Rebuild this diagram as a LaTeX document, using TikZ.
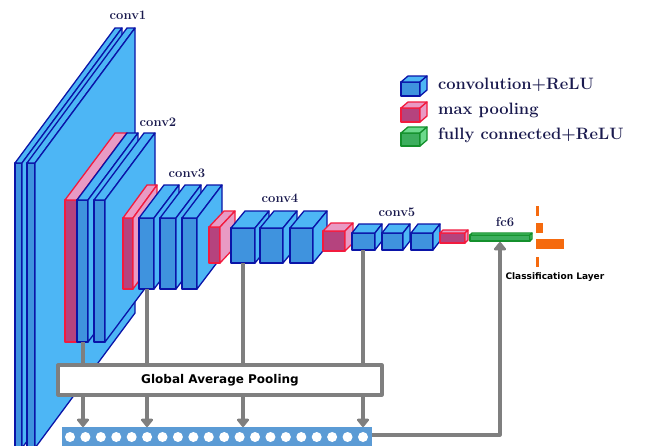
\documentclass[tikz,border=0pt]{standalone}
\usepackage{fontspec}
\usepackage{xcolor}
\usepackage{tikz}
\usetikzlibrary{arrows.meta, positioning}
\newfontfamily\gapfont{DejaVu Sans}
\definecolor{cnnfront}{HTML}{3F93DE}
\definecolor{cnnside}{HTML}{4DB6F5}
\definecolor{cnnedge}{HTML}{0A14A8}
\definecolor{poolfront}{HTML}{B5437E}
\definecolor{poolside}{HTML}{E99AC4}
\definecolor{pooledge}{HTML}{F21B3F}
\definecolor{fcfront}{HTML}{3DAE5E}
\definecolor{fcside}{HTML}{6CD98C}
\definecolor{fcedge}{HTML}{14902C}
\definecolor{gapgray}{HTML}{7F7F7F}
\definecolor{vecblue}{HTML}{5B9BD5}
\definecolor{clsorange}{HTML}{F56A0E}
\definecolor{labelnavy}{HTML}{1A1A4E}

% one block: kind, x, y (front top left), width, height, depth right, depth up
\newcommand{\drawslab}[7]{%
  \filldraw[#1face] (#2,#3) rectangle ++(#4,#5);
  \filldraw[#1side] (#2,#3) -- ++(#6,-#7) -- ++(#4,0) -- ++(-#6,#7) -- cycle;
  \filldraw[#1side] (#2+#4,#3) -- ++(#6,-#7) -- ++(0,#5) -- ++(-#6,#7) -- cycle;
}

\begin{document}
\begin{tikzpicture}[
    x=1pt, y=-1pt, line join=round,
    convface/.style={fill=cnnfront, draw=cnnedge, line width=1.3pt},
    convside/.style={fill=cnnside, draw=cnnedge, line width=1.3pt},
    poolface/.style={fill=poolfront, draw=pooledge, line width=1.3pt},
    poolside/.style={fill=poolside, draw=pooledge, line width=1.3pt},
    fcface/.style={fill=fcfront, draw=fcedge, line width=1.3pt},
    fcside/.style={fill=fcside, draw=fcedge, line width=1.3pt},
    lbl/.style={font=\fontsize{13}{15}\selectfont\bfseries, text=labelnavy},
    key/.style={font=\fontsize{16.5}{18}\selectfont\bfseries, text=labelnavy, anchor=base west, inner sep=0pt},
    gapbox/.style={draw=gapgray, line width=3.2pt, fill=white, minimum width=324pt, minimum height=30pt,
      font=\gapfont\bfseries\fontsize{12}{14}\selectfont},
    vecbar/.style={fill=vecblue, minimum width=310pt, minimum height=30pt, anchor=north west, inner sep=0pt},
    feed/.style={draw=gapgray, line width=3.2pt},
    feedarr/.style={feed, -{Triangle[length=9pt, width=14pt, round]}},
    clsbar/.style={fill=clsorange}
  ]
    \clip (0,0) rectangle (659,445);
    \fill[white] (0,0) rectangle (659,445);

    % conv1
    \drawslab{conv}{15}{163}{7}{285}{100}{135}
    \drawslab{conv}{27}{163}{8}{285}{100}{135}
    % conv2
    \drawslab{pool}{65}{200}{12}{142}{50}{67}
    \drawslab{conv}{77}{200}{11}{142}{50}{67}
    \drawslab{conv}{94}{200}{11}{142}{50}{67}
    % conv3
    \drawslab{pool}{123}{218}{10}{71}{24}{33}
    \drawslab{conv}{139}{218}{15}{71}{25}{33}
    \drawslab{conv}{160}{218}{16}{71}{25}{33}
    \drawslab{conv}{182}{218}{15}{71}{25}{33}
    % conv4
    \drawslab{pool}{209}{227}{11}{36}{15}{16}
    \drawslab{conv}{231}{228}{24}{35}{14}{17}
    \drawslab{conv}{260}{228}{23}{35}{14}{17}
    \drawslab{conv}{290}{228}{23}{35}{14}{17}
    % conv5
    \drawslab{pool}{323}{231}{22}{20}{8}{8}
    \drawslab{conv}{352}{233}{23}{17}{7}{9}
    \drawslab{conv}{382}{233}{21}{17}{7}{9}
    \drawslab{conv}{411}{233}{22}{17}{7}{9}
    % pool5 and fc6
    \drawslab{pool}{440}{233}{25}{10}{3}{3}
    \drawslab{fc}{470}{235}{60}{6}{2}{2}

    \node[lbl] (l1) at (128,15) {conv1};
    \node[lbl] (l2) at (158,122) {conv2};
    \node[lbl] (l3) at (187,173) {conv3};
    \node[lbl] (l4) at (280,198) {conv4};
    \node[lbl] (l5) at (397,212) {conv5};
    \node[lbl] (l6) at (505,222) {fc6};

    % legend
    \drawslab{conv}{401}{82}{19}{14}{7}{6}
    \node[key] (kconv) at (438,89) {convolution+ReLU};
    \drawslab{pool}{401}{108}{19}{14}{7}{6}
    \node[key] (kpool) at (438,114) {max pooling};
    \drawslab{fc}{401}{133}{19}{13}{7}{6}
    \node[key] (kfc) at (438,139) {fully connected+ReLU};

    % pooling and feature vector
    \node[gapbox] (gap) at (220,380) {Global Average Pooling};
    \node[vecbar] (vec) at (62,427) {};
    \foreach \i in {0,...,19}
      \fill[white] (70+\i*15.42,437) circle (5);

    \coordinate (c2) at (83,342);
    \coordinate (c3) at (147,289);
    \coordinate (c4) at (243,263);
    \coordinate (c5) at (363,250);
    \foreach \c in {c2,c3,c4,c5} {
      \draw[feed] (\c) -- (\c |- gap.north);
      \draw[feedarr] (\c |- gap.south) -- (\c |- vec.north);
    }
    \coordinate (vout) at ([yshift=-8pt]vec.north east);
    \coordinate (fc6in) at (500,242);
    \draw[feedarr] (vout) -| (fc6in);

    % class scores
    \fill[clsbar] (536,206) rectangle (539,216);
    \fill[clsbar] (536,223) rectangle (543,233);
    \fill[clsbar] (536,239) rectangle (564,249);
    \fill[clsbar] (536,257) rectangle (539,267);
    \node[anchor=west, font=\gapfont\bfseries\fontsize{9}{11}\selectfont] (cls) at (502,277) {Classification Layer};
  \end{tikzpicture}
\end{document}
